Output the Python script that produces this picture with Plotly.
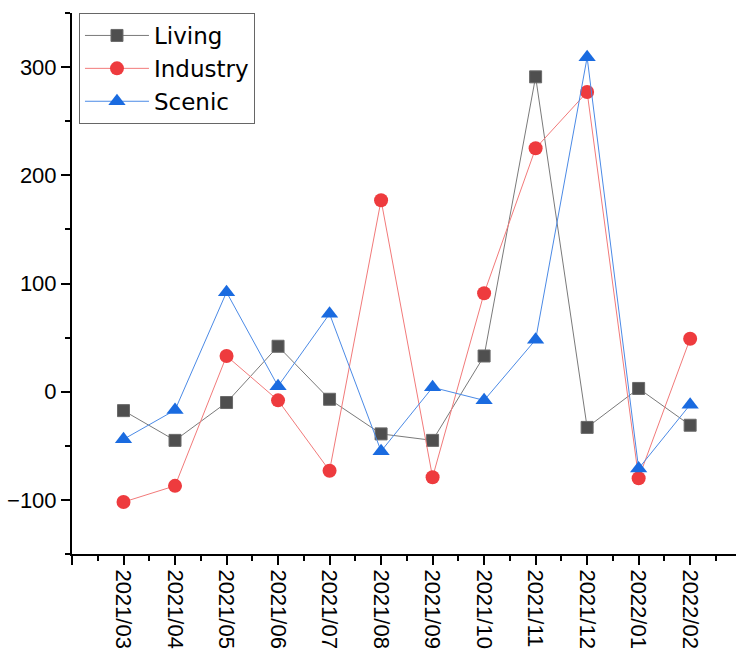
import plotly.graph_objects as go

months = ["2021/03", "2021/04", "2021/05", "2021/06", "2021/07", "2021/08",
          "2021/09", "2021/10", "2021/11", "2021/12", "2022/01", "2022/02"]
living = [-17.5, -45, -10, 42, -7, -39, -45, 33, 291, -33, 3, -31]
industry = [-102, -87, 33, -8, -73, 177, -79, 91, 225, 277, -80, 49]
scenic = [-44, -17, 92, 5, 72, -55, 4, -8, 48, 309, -71, -12]

y_major = [-100, 0, 100, 200, 300]

idx = list(range(len(months)))
FONT = "Liberation Sans"
LEGEND_FONT = "DejaVu Sans"

fig = go.Figure()
fig.add_trace(go.Scatter(
    x=idx, y=living, name="Living", mode="lines+markers",
    line=dict(color="#7a7a7a", width=1),
    marker=dict(symbol="square", size=12, color="#4f4f4f",
                line=dict(color="#6a6a6a", width=1))))
fig.add_trace(go.Scatter(
    x=idx, y=industry, name="Industry", mode="lines+markers",
    line=dict(color="#f27a7a", width=1),
    marker=dict(symbol="circle", size=14, color="#ee3b3e",
                line=dict(color="#ee3b3e", width=0))))
fig.add_trace(go.Scatter(
    x=idx, y=scenic, name="Scenic", mode="lines+markers",
    line=dict(color="#4b8ae6", width=1),
    marker=dict(symbol="triangle-up", size=15, color="#1a6be0",
                line=dict(color="#1a6be0", width=0))))

x_major = [-1] + idx + [len(idx)]
x_text = [""] + months + [""]
x_minor = [i + 0.5 for i in x_major[:-1]]
y_minor = [v + 50 for v in y_major] + [y_major[0] - 50]

fig.update_layout(
    width=736, height=654,
    margin=dict(l=72, r=0, t=13, b=100),
    plot_bgcolor="white", paper_bgcolor="white",
    font=dict(family=FONT, color="black", size=22),
    showlegend=True,
    legend=dict(x=0.0105, y=1.0, xanchor="left", yanchor="top",
                bgcolor="white", bordercolor="#666666", borderwidth=1,
                font=dict(family=LEGEND_FONT, size=23, color="black"),
                itemwidth=64, tracegroupgap=0),
    xaxis=dict(range=[-1, 11.89], showgrid=False, zeroline=False,
               showline=True, linecolor="black", linewidth=2,
               tickmode="array", tickvals=x_major, ticktext=x_text,
               ticks="outside", ticklen=9, tickwidth=2, tickcolor="black",
               tickangle=90, tickfont=dict(family=FONT, size=22),
               minor=dict(tickmode="array", tickvals=x_minor, ticks="outside",
                          ticklen=5, tickwidth=2, tickcolor="black", showgrid=False)),
    yaxis=dict(range=[-150, 350], showgrid=False, zeroline=False,
               showline=True, linecolor="black", linewidth=2,
               tickmode="array", tickvals=y_major,
               ticks="outside", ticklen=9, tickwidth=2, tickcolor="black",
               tickfont=dict(family=FONT, size=22),
               minor=dict(tickmode="array", tickvals=y_minor, ticks="outside",
                          ticklen=5, tickwidth=2, tickcolor="black", showgrid=False)),
)

fig.write_html("out.html", config={"displayModeBar": False})
